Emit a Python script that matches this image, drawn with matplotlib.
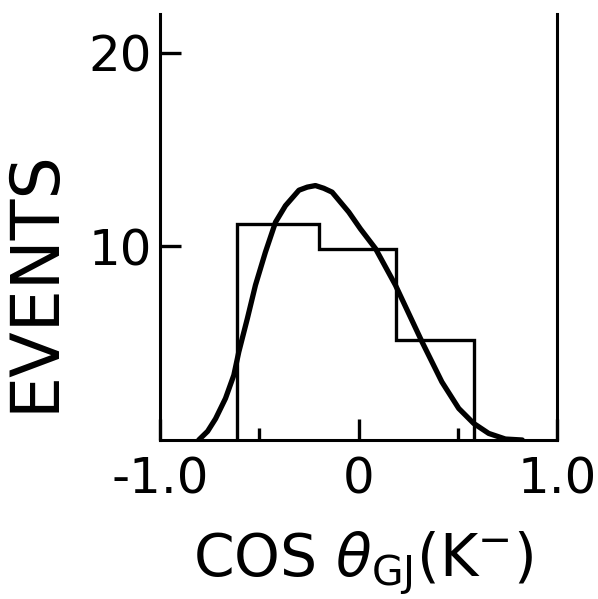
import matplotlib
matplotlib.use("Agg")
import matplotlib.pyplot as plt
from matplotlib.ticker import FixedLocator

# histogram
bin_edges = [-0.61, -0.20, 0.19, 0.58]
bin_counts = [11.17, 9.88, 5.15]

# fitted curve, points
curve_x = [-0.805, -0.76, -0.72, -0.67, -0.628, -0.603, -0.56, -0.519, -0.469, -0.418,
           -0.368, -0.30, -0.258, -0.217, -0.175, -0.133, -0.049, 0.01, 0.086, 0.186,
           0.25, 0.32, 0.42, 0.505, 0.58, 0.656, 0.74, 0.825]
curve_y = [0.0, 0.45, 1.1, 2.15, 3.35, 4.55, 6.27, 8.0, 9.7, 11.25,
           12.1, 12.9, 13.06, 13.14, 13.0, 12.8, 11.77, 10.9, 9.88, 8.0,
           6.6, 5.07, 3.0, 1.63, 0.86, 0.34, 0.05, 0.0]

xticks = [-1.0, 0.0, 1.0]
xticklabels = ["-1.0", "0", "1.0"]
xminor = [-0.5, 0.5]
yticks = [10, 20]
yticklabels = ["10", "20"]

plt.rcParams["font.family"] = ["DejaVu Sans"]
plt.rcParams["mathtext.fontset"] = "dejavusans"

fig = plt.figure(figsize=(5.98, 5.99), dpi=100)
ax = fig.add_axes([160 / 598, 159 / 599, 397 / 598, 426 / 599])

ax.stairs(bin_counts, bin_edges, baseline=0, color="black", lw=2.4)
ax.plot(curve_x, curve_y, color="black", lw=3.8,
        solid_joinstyle="round", solid_capstyle="round")

ax.set_xlim(-1, 1)
ax.set_ylim(0, 22)

ax.spines["top"].set_visible(False)
for s in ("left", "right", "bottom"):
    ax.spines[s].set_linewidth(2.2)

ax.set_xticks(xticks, xticklabels)
ax.xaxis.set_minor_locator(FixedLocator(xminor))
ax.set_yticks(yticks, yticklabels)
ax.tick_params(axis="both", which="major", direction="in", length=15, width=2.4,
               labelsize=36)
ax.tick_params(axis="x", which="major", pad=11)
ax.tick_params(axis="y", which="major", pad=6)
ax.tick_params(axis="x", which="minor", direction="in", length=9, width=2.4)
ax.tick_params(right=False, top=False)

fig.text(35 / 598, 1 - 281 / 599, "EVENTS", rotation=90, ha="center", va="center",
         fontsize=48)
fig.text(363 / 598, 1 - 577 / 599, r"COS $\theta_{\mathrm{GJ}}$(K$^{-}$)",
         ha="center", va="baseline", fontsize=42)

fig.savefig("out.png", dpi=100)
plt.close(fig)
